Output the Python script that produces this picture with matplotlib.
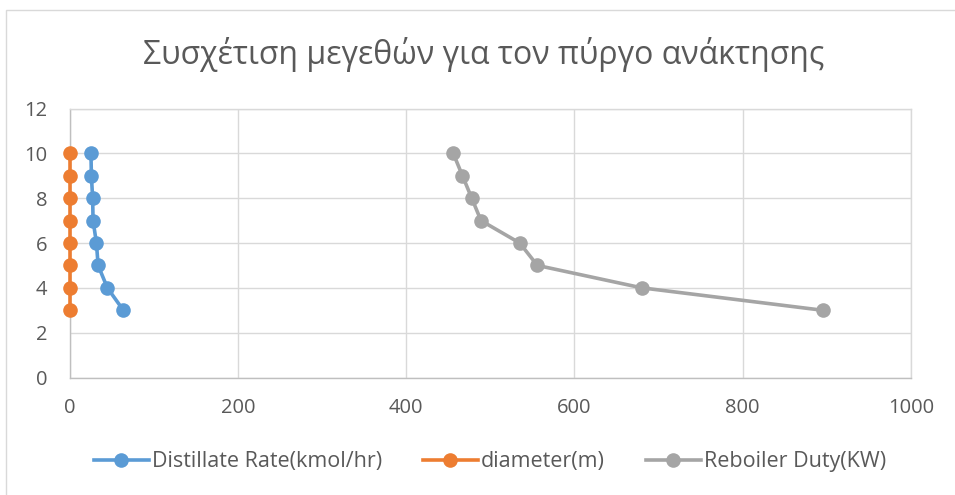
import matplotlib
matplotlib.use("Agg")
import matplotlib.pyplot as plt
from matplotlib.patches import Rectangle
from matplotlib.lines import Line2D

plt.rcParams['font.family'] = ['Open Sans', 'DejaVu Sans']

title = "Συσχέτιση μεγεθών για τον πύργο ανάκτησης"
stages = [10, 9, 8, 7, 6, 5, 4, 3]
distillate = [25.5, 26, 27.5, 28, 32, 34, 45, 64]
diameter = [1, 1, 1, 1, 1, 1, 1, 1]
reboiler = [456, 467, 478, 489, 535, 556, 680, 895]
series_names = ["Distillate Rate(kmol/hr)", "diameter(m)", "Reboiler Duty(KW)"]
colors = ["#5B9BD5", "#ED7D31", "#A5A5A5"]
xticks = [0, 200, 400, 600, 800, 1000]
yticks = [0, 2, 4, 6, 8, 10, 12]

W, H = 955, 495
fig = plt.figure(figsize=(W / 100, H / 100), dpi=100)
fig.patch.set_facecolor("white")

# chart border
fig.add_artist(Rectangle((5.5 / W, -0.1), 1.2, 1 - 9.5 / H + 0.1, transform=fig.transFigure,
                         fill=False, edgecolor="#D9D9D9", linewidth=1.0))

left, right, top, bottom = 69.5, 911, 108.5, 377.5
ax = fig.add_axes([left / W, 1 - bottom / H, (right - left) / W, (bottom - top) / H])

text_color = "#595959"
for xs, c in zip([distillate, diameter, reboiler], colors):
    ax.plot(xs, stages, color=c, linewidth=2.6, marker="o", markersize=10.5,
            markeredgewidth=0, zorder=3, clip_on=False)

ax.set_xlim(0, 1000)
ax.set_ylim(0, 12)
ax.set_xticks(xticks)
ax.set_yticks(yticks)
ax.grid(True, color="#D9D9D9", linewidth=1.0, zorder=0)
ax.set_axisbelow(True)
for s in ax.spines.values():
    s.set_color("#D9D9D9")
    s.set_linewidth(1.0)
ax.spines['left'].set_color("#BFBFBF")
ax.spines['bottom'].set_color("#BFBFBF")
ax.tick_params(length=0, labelsize=14.5, labelcolor=text_color)
ax.tick_params(axis='y', pad=16)
ax.tick_params(axis='x', pad=15)

fig.text(484 / W, 1 - 55 / H, title, ha="center", va="center", fontsize=23, color=text_color)

handles = [Line2D([], [], color=c, linewidth=2.6, marker="o", markersize=10.5, markeredgewidth=0)
           for c in colors]
fig.legend(handles, series_names, loc="center", bbox_to_anchor=(490 / W, 1 - 462 / H),
           ncol=3, frameon=False, fontsize=15.5, labelcolor=text_color, handlelength=2.55,
           handletextpad=0.15, columnspacing=1.9)

fig.savefig("out.png", dpi=100, facecolor="white")
